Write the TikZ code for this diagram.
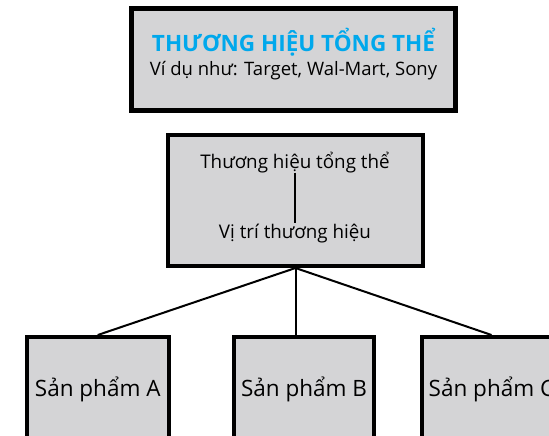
\documentclass[tikz,border=0pt]{standalone}
\usepackage{fontspec}
\setmainfont{Open Sans}
\definecolor{BoxFill}{HTML}{D4D4D6}
\definecolor{TitleBlue}{HTML}{00A8EC}

\begin{document}
\begin{tikzpicture}[x=1pt,y=-1pt,
  box/.style={draw,fill=BoxFill,line width=4pt,inner sep=0pt},
  prod/.style={box,minimum width=140pt,minimum height=104pt,font=\fontsize{22.5}{26}\selectfont},
  txt/.style={anchor=base,inner sep=0pt},
  link/.style={line width=2pt}]
  \clip (0,0) rectangle (549,436);
  % top box
  \node[box,line width=5pt,minimum width=324pt,minimum height=102pt] (brand) at (293.5,59.5) {};
  \node[txt,font=\bfseries\fontsize{22.5}{26}\selectfont,text=TitleBlue] (title) at (293.5,52) {THƯƠNG HIỆU TỔNG THỂ};
  \node[txt,font=\fontsize{18.5}{22}\selectfont] (examples) at (293.5,75) {Ví dụ như: Target, Wal-Mart, Sony};
  % middle box
  \node[box,minimum width=255pt,minimum height=131pt] (pos) at (295.5,200.5) {};
  \node[txt,font=\fontsize{18.8}{22}\selectfont] (umbrella) at (295,168) {Thương hiệu tổng thể};
  \node[txt,font=\fontsize{18.8}{22}\selectfont] (place) at (295,238) {Vị trí thương hiệu};
  \draw[link] (umbrella.south) -- (place.north);
  % products
  \node[prod,minimum width=141.5pt] (prodA) at (97.75,389) {Sản phẩm A};
  \node[prod] (prodB) at (304,389) {Sản phẩm B};
  \node[prod] (prodC) at (491.5,389) {Sản phẩm C};
  \draw[link] (pos.south) -- (prodA.north);
  \draw[link] (pos.south) -- (pos.south |- prodB.north);
  \draw[link] (pos.south) -- (prodC.north);
\end{tikzpicture}
\end{document}
